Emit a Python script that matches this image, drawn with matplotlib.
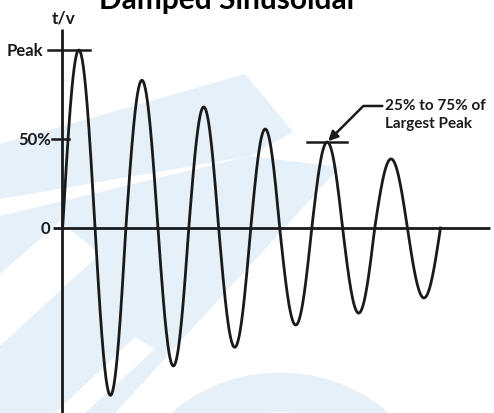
import numpy as np
import matplotlib.pyplot as plt
from matplotlib.patches import Polygon, Wedge

# zero crossings of the trace (time in half-periods) and the extreme value of each lobe
crossings = [0.02, 1.05, 2.03, 3.05, 4.03, 4.98, 6.0, 6.92, 7.94, 8.92, 9.94, 10.98, 12.03]
lobe_peaks = [1.0, -0.94, 0.83, -0.775, 0.68, -0.67, 0.556, -0.545, 0.483, -0.478, 0.388, -0.393]

title = "Damped Sinusoidal"
y_label = "t/v"
tick_values = [1.0, 0.5, 0.0]
tick_labels = ["Peak", "50%", "0"]
note = "25% to 75% of\nLargest Peak"
marked_lobe = 8  # the lobe the note points at

W, H = 494, 414
fig = plt.figure(figsize=(W / 100, H / 100), dpi=100)
ax = fig.add_axes([0, 0, 1, 1])
# 1 x unit = 31.46 px, origin at px 62; 1 y unit = 178 px, zero at px 229 from top
ax.set_xlim(-62 / 31.46, (W - 62) / 31.46)
ax.set_ylim(-(H - 229) / 178, 229 / 178)
ax.axis('off')

# light blue watermark in the background (pixel coords, y down)
wm = '#e5f0f8'
def px(pts):
    return [(x / W, 1 - y / H) for x, y in pts]

def shape(pts, col):
    ax.add_patch(Polygon(px(pts), closed=True, transform=fig.transFigure,
                         facecolor=col, edgecolor='none', zorder=0))

shape([(0, 145), (245, 75), (293, 133), (250, 157), (0, 200)], wm)
shape([(0, 217), (250, 157), (340, 168), (115, 414), (0, 414)], wm)
shape([(0, 275), (60, 222), (100, 255), (0, 347)], 'white')
shape([(55, 414), (135, 338), (155, 350), (85, 414)], 'white')
ax.add_patch(Wedge((280 / W, 1 - 496 / H), 146 / W, 0, 360, width=47 / W,
                   transform=fig.transFigure, facecolor=wm, edgecolor='none', zorder=0))

# trace: one half sine per lobe between consecutive crossings
t_all, v_all = [], []
for i, amp in enumerate(lobe_peaks):
    t = np.linspace(crossings[i], crossings[i + 1], 60)
    v = amp * np.sin(np.pi * (t - crossings[i]) / (crossings[i + 1] - crossings[i]))
    t_all.append(t)
    v_all.append(v)
t_all = np.concatenate(t_all)
v_all = np.concatenate(v_all)

lc = '#1a1a1a'
# axes
ax.plot([0, 0], [-1.1, 1.12], color=lc, lw=2, solid_capstyle='butt', zorder=2)
ax.plot([-0.29, 13.6], [0, 0], color=lc, lw=2, solid_capstyle='butt', zorder=2)
ax.plot(t_all, v_all, color=lc, lw=2, zorder=3)

font = ['Lato', 'DejaVu Sans']
# tick marks and labels on the vertical axis
ax.plot([-0.445, 0.89], [1.0, 1.0], color=lc, lw=1.8, zorder=2)
ax.plot([-0.32, 0.22], [0.5, 0.5], color=lc, lw=1.8, zorder=2)
label_right = [-0.6, -0.33, -0.38]
for val, lab, xr in zip(tick_values, tick_labels, label_right):
    ax.text(xr, val, lab, ha='right', va='center', fontsize=12,
            fontweight='bold', family=font, color=lc, zorder=4)
ax.text(0.05, 1.18, y_label, ha='center', va='center', fontsize=12.5,
        fontweight='bold', family=font, color=lc, zorder=4)
fig.text(227 / W, 1 - 9 / H, title, ha='center', va='baseline', fontsize=21.5,
         fontweight='bold', family=font, color='black')

# marker at the pointed-at peak and the callout
tp = 0.5 * (crossings[marked_lobe] + crossings[marked_lobe + 1])
ap = lobe_peaks[marked_lobe]
ax.plot([tp - 0.65, tp + 0.62], [ap, ap], color=lc, lw=1.8, zorder=2)
ax.annotate(note, xy=(tp + 0.03, ap + 0.005), xytext=(10.27, 0.64),
            ha='left', va='center', fontsize=11, fontweight='bold',
            family=font, color=lc, linespacing=1.4, zorder=4,
            arrowprops=dict(arrowstyle='-|>', color=lc, lw=1.8, mutation_scale=14,
                            shrinkA=0, shrinkB=0,
                            connectionstyle='angle,angleA=0,angleB=45,rad=0',
                            relpos=(0, 0.75)))

fig.savefig('out.png', dpi=100)
